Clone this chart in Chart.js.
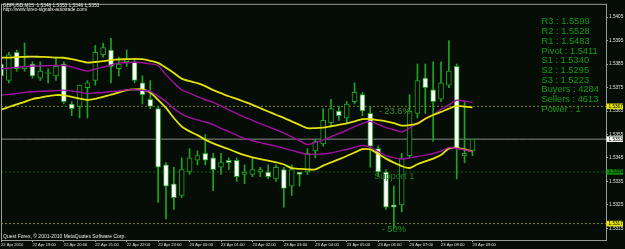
<!DOCTYPE html>
<html><head><meta charset="utf-8">
<script src="https://cdn.jsdelivr.net/npm/chart.js@4"></script>
<style>html,body{margin:0;padding:0;background:#060d07;}canvas{display:block;}</style>
</head><body>
<canvas id="c" width="625" height="249"></canvas>
<script>
const symbolHeader = "GBPUSD,M15  1.5348 1.5353 1.5346 1.5353";
const siteUrl = "http://www.forex-signals-autotrade.com/";
const copyright = "Quest Forex, \u00A9 2001-2010 MetaQuotes Software Corp.";
const hourLabels = ["22 Apr 2010","22 Apr 19:00","22 Apr 20:00","22 Apr 21:00","22 Apr 22:00","22 Apr 23:00",
  "23 Apr 00:00","23 Apr 01:00","23 Apr 02:00","23 Apr 03:00","23 Apr 04:00","23 Apr 05:00","23 Apr 06:00",
  "23 Apr 07:00","23 Apr 08:00","23 Apr 09:00"];
const yTicks = [1.5315,1.5325,1.5335,1.5345,1.5355,1.5365,1.5375,1.5385,1.5395,1.5405];

const open  = [1.5385,1.5378,1.5390,1.5383,1.5385,1.5379,1.5381,1.5380,1.5385,1.5368,1.5367,1.5375,1.5378,1.5389,1.5391,1.5383,1.5386,1.5386,1.5377,1.5370,
  1.5366,1.5342,1.5334,1.5329,1.5339,1.5344,1.5347,1.5345,1.5341,1.5344,1.5344,1.5338,1.5338,1.5339,1.5339,1.5336,1.5340,1.5333,1.5339,1.5339,
  1.5348,1.5351,1.5360,1.5365,1.5362,1.5369,1.5372,1.5364,1.5349,1.5339,1.5325,1.5325,1.5346,1.5364,1.5379,1.5374,1.5370,1.5376,1.5384,1.5346,1.5348];
const high  = [1.5387,1.5390,1.5391,1.5394,1.5386,1.5386,1.5383,1.5388,1.5386,1.5369,1.5376,1.5378,1.5393,1.5394,1.5396,1.5388,1.5391,1.5387,1.5380,1.5378,
  1.5367,1.5343,1.5341,1.5345,1.5349,1.5348,1.5355,1.5347,1.5347,1.5345,1.5345,1.5342,1.5345,1.5341,1.5342,1.5342,1.5341,1.5342,1.5339,1.5349,
  1.5353,1.5366,1.5370,1.5367,1.5369,1.5377,1.5373,1.5367,1.5350,1.5340,1.5333,1.5347,1.5372,1.5385,1.5385,1.5386,1.5386,1.5395,1.5385,1.5369,1.5353];
const low   = [1.5378,1.5377,1.5382,1.5382,1.5379,1.5378,1.5377,1.5378,1.5368,1.5363,1.5362,1.5362,1.5376,1.5388,1.5377,1.5380,1.5384,1.5377,1.5368,1.5366,
  1.5326,1.5319,1.5323,1.5328,1.5338,1.5342,1.5342,1.5331,1.5338,1.5340,1.5335,1.5334,1.5337,1.5337,1.5336,1.5335,1.5324,1.5329,1.5333,1.5338,
  1.5345,1.5350,1.5359,1.5361,1.5360,1.5368,1.5363,1.5341,1.5337,1.5323,1.5315,1.5322,1.5345,1.5362,1.5364,1.5352,1.5369,1.5375,1.5336,1.5343,1.5346];
const close = [1.5380,1.5389,1.5383,1.5384,1.5380,1.5382,1.5381,1.5384,1.5369,1.5366,1.5376,1.5377,1.5390,1.5392,1.5384,1.5385,1.5387,1.5378,1.5372,1.5367,
  1.5341,1.5333,1.5328,1.5340,1.5345,1.5346,1.5344,1.5340,1.5343,1.5343,1.5337,1.5339,1.5340,1.5340,1.5337,1.5341,1.5332,1.5340,1.5338,1.5347,
  1.5352,1.5361,1.5366,1.5363,1.5368,1.5373,1.5365,1.5350,1.5339,1.5324,1.5324,1.5345,1.5365,1.5378,1.5375,1.5369,1.5377,1.5382,1.5349,1.5347,1.5353];

const envUpperOuter = [1.53877,1.53878,1.53880,1.53881,1.53882,1.53881,1.53880,1.53878,1.53877,1.53871,1.53864,1.53856,1.53859,1.53863,1.53867,1.53870,1.53871,1.53872,1.53871,1.53864,
  1.53855,1.53834,1.53812,1.53788,1.53777,1.53769,1.53756,1.53739,1.53726,1.53713,1.53702,1.53689,1.53676,1.53662,1.53648,1.53634,1.53621,1.53606,1.53591,1.53577,
  1.53577,1.53579,1.53585,1.53591,1.53597,1.53606,1.53615,1.53616,1.53611,1.53606,1.53598,1.53588,1.53590,1.53596,1.53617,1.53633,1.53646,1.53660,1.53672,1.53669,1.53665];
const envUpperInner = [1.53830,1.53833,1.53836,1.53839,1.53842,1.53842,1.53843,1.53844,1.53844,1.53838,1.53828,1.53820,1.53829,1.53837,1.53846,1.53855,1.53856,1.53858,1.53856,1.53851,
  1.53844,1.53804,1.53770,1.53740,1.53726,1.53711,1.53698,1.53687,1.53671,1.53655,1.53639,1.53624,1.53610,1.53596,1.53583,1.53570,1.53556,1.53540,1.53523,1.53507,
  1.53516,1.53527,1.53541,1.53554,1.53568,1.53583,1.53597,1.53606,1.53592,1.53579,1.53570,1.53561,1.53578,1.53599,1.53618,1.53634,1.53657,1.53676,1.53696,1.53692,1.53686];
const envLowerInner = [1.53718,1.53721,1.53725,1.53729,1.53732,1.53734,1.53735,1.53737,1.53739,1.53735,1.53730,1.53725,1.53727,1.53729,1.53733,1.53736,1.53740,1.53741,1.53738,1.53734,
  1.53713,1.53690,1.53660,1.53637,1.53622,1.53612,1.53603,1.53592,1.53576,1.53562,1.53547,1.53533,1.53523,1.53515,1.53507,1.53500,1.53491,1.53482,1.53473,1.53465,
  1.53466,1.53467,1.53471,1.53479,1.53486,1.53495,1.53503,1.53496,1.53477,1.53460,1.53451,1.53445,1.53450,1.53456,1.53462,1.53469,1.53479,1.53494,1.53490,1.53484,1.53477];
const envLowerOuter = [1.53656,1.53667,1.53678,1.53689,1.53701,1.53707,1.53713,1.53718,1.53717,1.53710,1.53703,1.53697,1.53702,1.53710,1.53720,1.53729,1.53739,1.53742,1.53742,1.53729,
  1.53697,1.53663,1.53620,1.53584,1.53563,1.53547,1.53528,1.53512,1.53499,1.53487,1.53474,1.53462,1.53452,1.53445,1.53438,1.53431,1.53422,1.53406,1.53403,1.53401,
  1.53401,1.53417,1.53431,1.53444,1.53458,1.53473,1.53487,1.53486,1.53467,1.53447,1.53430,1.53415,1.53407,1.53423,1.53435,1.53447,1.53462,1.53490,1.53493,1.53486,1.53477];

const levelPrices = [1.5367, 1.5353, 1.5339, 1.5317];
const levelNames  = ["Fibo 23.6%", "Bid", "Support 1", "Fibo 50%"];
const pivotLabels = ["R3 : 1.5599","R2 : 1.5528","R1 : 1.5483","Pivot : 1.5411","S1 : 1.5340","S2 : 1.5295","S3 : 1.5223","Buyers : 4284","Sellers : 4613","Power : 1"];

const futureSlots = 17;
const categories = [];
for (let i = 0; i < open.length + futureSlots; i++) {
  const t = (18 * 60 + 15 * i) % 1440;
  categories.push(String(Math.floor(t / 60)).padStart(2, '0') + ':' + String(t % 60).padStart(2, '0'));
}

const BG = '#060d07';
const CANDLE = '#1fa31f';
const FONT = '"Liberation Sans", Arial, sans-serif';

const levelStyles = [
  {color:'#8a8a10', dash:[2,2]},
  {color:'#8c8c8c', dash:[]},
  {color:'#0f5c12', dash:[2,2]},
  {color:'#8a8a10', dash:[2,2]}
];
const boxStyles = [
  {bg:'#e6e600', fg:'#000'},
  {bg:'#ffffff', fg:'#000'},
  {bg:'#0b8a0b', fg:'#000'},
  {bg:'#e6e600', fg:'#000'}
];

const levelDatasets = levelPrices.map((p, k) => ({
  type: 'line', label: levelNames[k], data: categories.map(() => p),
  borderColor: levelStyles[k].color, borderDash: levelStyles[k].dash, borderWidth: 1,
  pointRadius: 0, order: 5
}));

const lineDs = (label, data, color, w) => ({
  type: 'line', label, data, borderColor: color, borderWidth: w, pointRadius: 0,
  tension: 0.25, order: 0, fill: false
});

const overlay = {
  id: 'overlay',
  beforeDraw(chart) {
    const ctx = chart.ctx;
    ctx.save(); ctx.fillStyle = BG; ctx.fillRect(0, 0, chart.width, chart.height); ctx.restore();
  },
  afterDraw(chart) {
    const {ctx, chartArea: a, scales: {x, y}} = chart;
    ctx.save();
    ctx.strokeStyle = '#9c9c9c'; ctx.lineWidth = 1;
    ctx.strokeRect(a.left + 0.5, a.top + 0.5, a.right - a.left, a.bottom - a.top);

    ctx.fillStyle = '#e8e8e8'; ctx.textBaseline = 'middle'; ctx.textAlign = 'left';
    ctx.font = '4.8px ' + FONT;
    ctx.fillText(symbolHeader, 3, 5.2);
    ctx.fillText(siteUrl, 3, 9.2);
    ctx.font = '5px ' + FONT;
    ctx.fillText(copyright, 3, 236.3);

    ctx.font = '9.3px ' + FONT; ctx.fillStyle = '#159a15';
    pivotLabels.forEach((t, k) => ctx.fillText(t, 541.5, 21.8 + k * 9.73));

    ctx.font = '9.3px ' + FONT;
    ctx.fillStyle = '#3f8a2a';
    ctx.fillText('- 23.6%', x.getPixelForValue(48) + 0.5, y.getPixelForValue(levelPrices[0]) + 5.6);
    ctx.fillStyle = '#1e7e1e';
    ctx.fillText('Support 1', x.getPixelForValue(47) + 3.7, y.getPixelForValue(levelPrices[2]) + 4.8);
    ctx.fillStyle = '#169a16';
    ctx.fillText('- 50%', x.getPixelForValue(48) + 3.5, y.getPixelForValue(levelPrices[3]) + 6);

    ctx.font = '4.7px ' + FONT;
    levelPrices.forEach((p, k) => {
      const py = y.getPixelForValue(p);
      ctx.fillStyle = boxStyles[k].bg;
      ctx.fillRect(a.right + 0.5, py - 2.8, 16.5, 5.6);
      ctx.fillStyle = boxStyles[k].fg;
      ctx.fillText(p.toFixed(4), a.right + 2.5, py + 0.2);
    });
    ctx.restore();
  }
};

new Chart(document.getElementById('c'), {
  type: 'bar',
  data: {
    labels: categories,
    datasets: [
      lineDs('Env upper', envUpperOuter, '#e2e20c', 1.8),
      lineDs('MA upper', envUpperInner, '#a010a0', 1.4),
      lineDs('MA lower', envLowerInner, '#a010a0', 1.4),
      lineDs('Env lower', envLowerOuter, '#e2e20c', 1.8),
      {
        type: 'bar', label: 'Body', data: open.map((o, i) => [o, close[i]]),
        backgroundColor: open.map((o, i) => close[i] >= o ? BG : '#ffffff'),
        borderColor: CANDLE, borderWidth: 1, borderSkipped: false,
        barThickness: 5, grouped: false, minBarLength: 1, order: 2
      },
      {
        type: 'bar', label: 'Wick', data: low.map((l, i) => [l, high[i]]),
        backgroundColor: CANDLE, borderWidth: 0,
        barThickness: 1, grouped: false, order: 3
      },
      ...levelDatasets
    ]
  },
  options: {
    responsive: false, animation: false, devicePixelRatio: 1,
    layout: {padding: {left: 1, top: 1, right: 0, bottom: 0}},
    plugins: {legend: {display: false}, tooltip: {enabled: false}},
    scales: {
      x: {
        type: 'category', offset: false,
        grid: {display: true, offset: false, drawOnChartArea: false, drawTicks: true, tickLength: 2, color: '#9c9c9c'},
        border: {display: false},
        afterBuildTicks: s => { s.ticks = s.ticks.filter(t => t.value % 4 === 0 && t.value / 4 < hourLabels.length); },
        afterFit: s => { s.height = 9; },
        ticks: {
          autoSkip: false, maxRotation: 0, minRotation: 0, align: 'start', padding: 0,
          color: '#e0e0e0', font: {family: FONT, size: 4.1},
          callback: v => hourLabels[v / 4]
        }
      },
      y: {
        type: 'linear', position: 'right', min: 1.5310, max: 1.54107,
        grid: {display: true, drawOnChartArea: false, drawTicks: true, tickLength: 2, color: '#9c9c9c'},
        border: {display: false},
        afterBuildTicks: s => { s.ticks = yTicks.map(v => ({value: v})); },
        afterFit: s => { s.width = 19; },
        ticks: {
          padding: 1, color: '#e0e0e0', font: {family: FONT, size: 4.7},
          callback: v => Number(v).toFixed(4)
        }
      }
    }
  },
  plugins: [overlay]
});
</script>
</body></html>
